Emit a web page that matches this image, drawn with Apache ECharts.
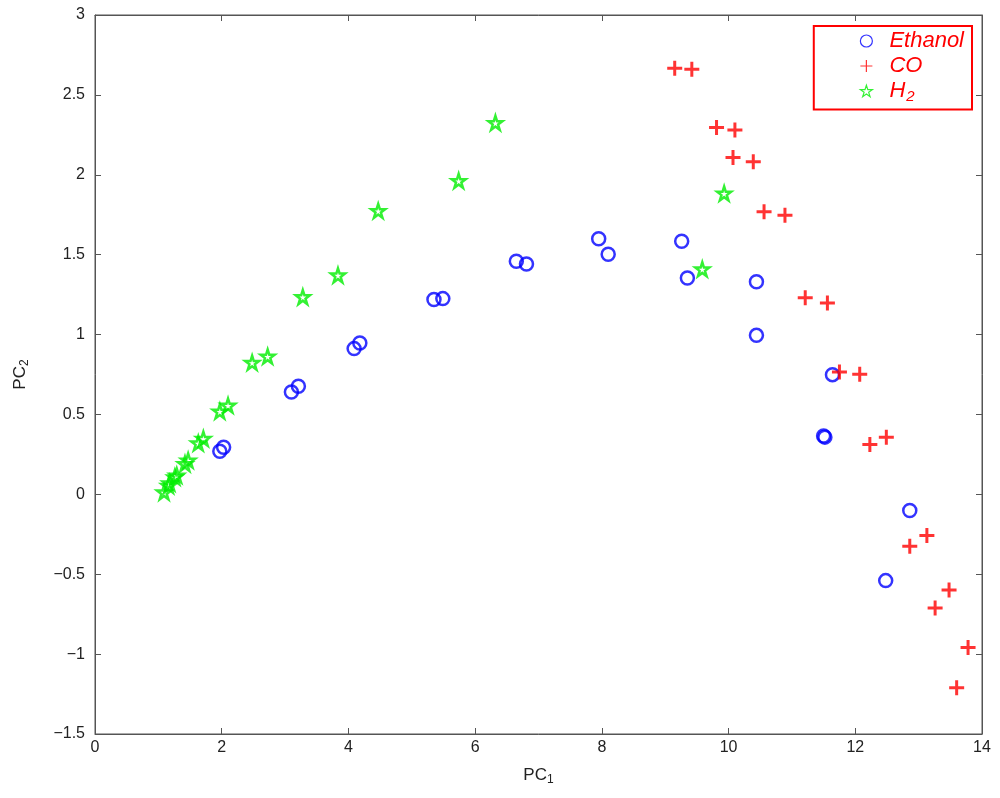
<!DOCTYPE html>
<html>
<head>
<meta charset="utf-8">
<script src="https://cdn.jsdelivr.net/npm/echarts@6/dist/echarts.min.js"></script>
<style>
  html, body { margin: 0; padding: 0; background: #fff; }
  #chart { width: 1000px; height: 798px; }
</style>
</head>
<body>
<div id="chart"></div>
<script>
// PC1 / PC2 scores
const ethanolX = [1.97, 2.03, 3.10, 3.21, 4.09, 4.18, 5.35, 5.49, 6.65, 6.81,
  7.95, 8.10, 9.26, 9.35, 10.44, 10.44, 11.64, 11.50, 11.52, 12.86, 12.48];
const ethanolY = [0.27, 0.295, 0.64, 0.677, 0.912, 0.947, 1.219, 1.225, 1.459, 1.442,
  1.60, 1.503, 1.584, 1.354, 1.33, 0.995, 0.749, 0.365, 0.358, -0.101, -0.54];

const coX = [9.15, 9.42, 9.81, 10.10, 10.07, 10.39, 10.56, 10.89, 11.21, 11.56,
  11.75, 12.07, 12.23, 12.49, 12.86, 13.13, 13.26, 13.48, 13.60, 13.78];
const coY = [2.666, 2.66, 2.296, 2.28, 2.108, 2.081, 1.768, 1.747, 1.231, 1.197,
  0.765, 0.751, 0.312, 0.358, -0.325, -0.258, -0.711, -0.598, -1.21, -0.958];

const h2X = [1.09, 1.16, 1.18, 1.26, 1.29, 1.42, 1.47, 1.63, 1.71, 1.97,
  2.10, 2.48, 2.725, 3.28, 3.835, 4.47, 5.74, 6.32, 9.93, 9.585];
const h2Y = [0.013, 0.055, 0.07, 0.107, 0.118, 0.191, 0.212, 0.32, 0.348, 0.519,
  0.556, 0.824, 0.863, 1.235, 1.371, 1.774, 1.962, 2.325, 1.883, 1.409];

const zip = (xs, ys) => xs.map((x, i) => [x, ys[i]]);

const plusPath = 'path://M0,50L100,50M50,0L50,100';
const starPath = 'path://M50,0L61.2,34.5L97.6,34.5L68.2,55.9L79.4,90.5L50,69.1L20.6,90.5L31.8,55.9L2.4,34.5L38.8,34.5Z';

const fontFamily = '"Liberation Sans", Arial, sans-serif';
const axisColor = '#555';

const chart = echarts.init(document.getElementById('chart'));

const tickFmt = v => String(v).replace('-', '\u2212');

const tickStyle = { inside: true, length: 6, lineStyle: { color: axisColor } };
const lineStyle = { onZero: false, lineStyle: { color: axisColor } };

chart.setOption({
  animation: false,
  grid: {
    left: 95, right: 18, top: 15, bottom: 64,
    show: true, borderColor: axisColor, borderWidth: 1
  },
  legend: {
    orient: 'vertical',
    right: 28, top: 26,
    itemWidth: 12, itemHeight: 12, itemGap: 3,
    padding: [4, 8, 5, 46],
    borderColor: '#ff0000', borderWidth: 2,
    backgroundColor: '#fff',
    itemStyle: { borderWidth: 1.2 },
    data: ['Ethanol', 'CO', 'H2'],
    formatter: name => name === 'H2' ? '{it|H}{sub|2}' : '{it|' + name + '}',
    textStyle: {
      color: '#ff0000',
      rich: {
        it: { fontSize: 22, fontStyle: 'italic', color: '#ff0000', fontFamily: fontFamily, padding: [0, 0, 0, 12] },
        sub: { fontSize: 15, fontStyle: 'italic', color: '#ff0000', fontFamily: fontFamily, padding: [12, 0, 0, 1] }
      }
    }
  },
  xAxis: [
    {
      type: 'value', min: 0, max: 14, interval: 2,
      name: 'PC{sub|1}', nameLocation: 'middle', nameGap: 30,
      nameTextStyle: {
        fontSize: 17, color: '#222', fontFamily: fontFamily,
        rich: { sub: { fontSize: 12, color: '#222', fontFamily: fontFamily, padding: [10, 0, 0, 0] } }
      },
      axisLine: lineStyle,
      axisTick: tickStyle,
      axisLabel: { fontSize: 16, color: '#222', fontFamily: fontFamily, margin: 6 },
      splitLine: { show: false }
    },
    {
      type: 'value', min: 0, max: 14, interval: 2, position: 'top',
      axisLine: lineStyle,
      axisTick: tickStyle,
      axisLabel: { show: false }, splitLine: { show: false }
    }
  ],
  yAxis: [
    {
      type: 'value', min: -1.5, max: 3, interval: 0.5,
      name: 'PC{sub|2}', nameLocation: 'middle', nameGap: 64, nameRotate: 90,
      nameTextStyle: {
        fontSize: 17, color: '#222', fontFamily: fontFamily,
        rich: { sub: { fontSize: 12, color: '#222', fontFamily: fontFamily, padding: [10, 0, 0, 0] } }
      },
      axisLine: lineStyle,
      axisTick: tickStyle,
      axisLabel: { fontSize: 16, color: '#222', fontFamily: fontFamily, margin: 10, formatter: tickFmt },
      splitLine: { show: false }
    },
    {
      type: 'value', min: -1.5, max: 3, interval: 0.5, position: 'right',
      axisLine: lineStyle,
      axisTick: tickStyle,
      axisLabel: { show: false }, splitLine: { show: false }
    }
  ],
  series: [
    {
      name: 'Ethanol', type: 'scatter', symbol: 'circle', symbolSize: 13,
      data: zip(ethanolX, ethanolY),
      itemStyle: { color: 'rgba(255,255,255,0)', borderColor: '#0000ff', borderWidth: 2.5 }
    },
    {
      name: 'CO', type: 'scatter', symbol: plusPath, symbolSize: 15,
      data: zip(coX, coY),
      itemStyle: { color: 'rgba(255,255,255,0)', borderColor: '#ff0000', borderWidth: 3 }
    },
    {
      name: 'H2', type: 'scatter', symbol: starPath, symbolSize: 14,
      data: zip(h2X, h2Y),
      itemStyle: { color: 'rgba(255,255,255,0)', borderColor: '#00ee00', borderWidth: 2.5 }
    }
  ]
});
</script>
</body>
</html>
